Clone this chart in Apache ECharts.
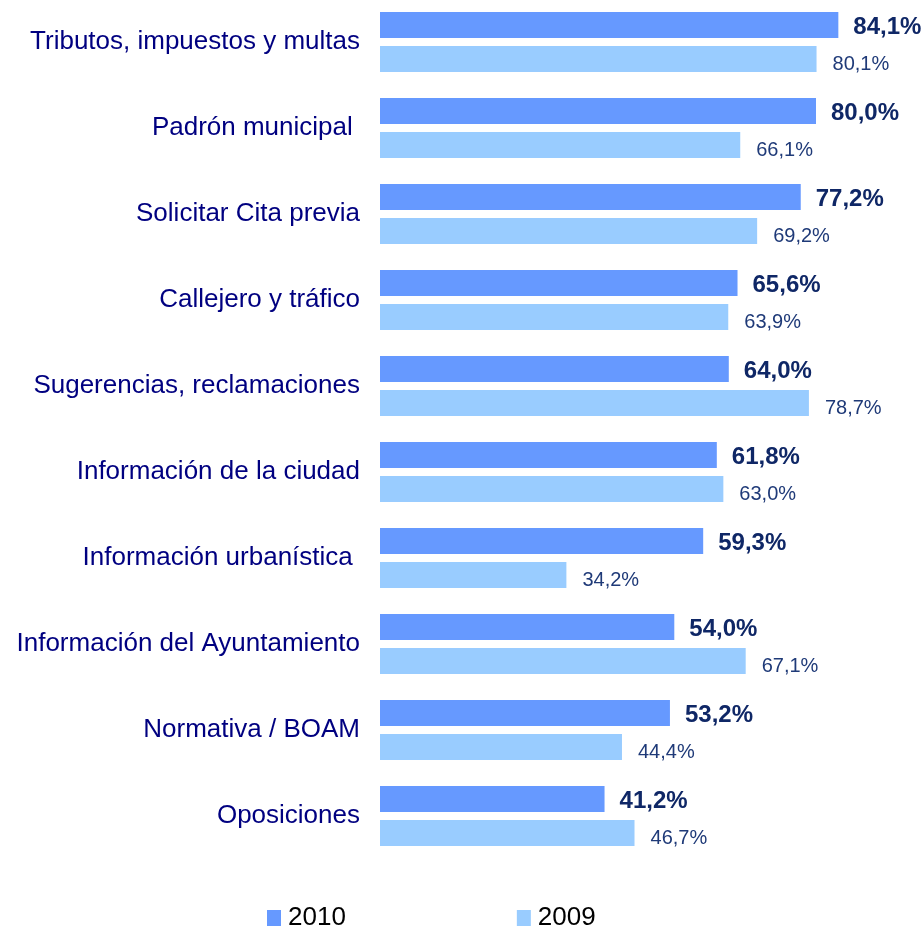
<!DOCTYPE html>
<html>
<head>
<meta charset="utf-8">
<script src="https://cdn.jsdelivr.net/npm/echarts@6/dist/echarts.min.js"></script>
<style>
  html, body { margin: 0; padding: 0; background: #fff; }
  #chart { width: 924px; height: 928px; }
</style>
</head>
<body>
<div id="chart"></div>
<script>
// servicios consultados, 2010 vs 2009
const categories = [
  "Tributos, impuestos y multas",
  "Padrón municipal ",
  "Solicitar Cita previa",
  "Callejero y tráfico",
  "Sugerencias, reclamaciones",
  "Información de la ciudad",
  "Información urbanística ",
  "Información del Ayuntamiento",
  "Normativa / BOAM",
  "Oposiciones"
];
const values2010 = [84.1, 80.0, 77.2, 65.6, 64.0, 61.8, 59.3, 54.0, 53.2, 41.2];
const values2009 = [80.1, 66.1, 69.2, 63.9, 78.7, 63.0, 34.2, 67.1, 44.4, 46.7];

const fmt = (p) => p.value.toFixed(1).replace(".", ",") + "%";

const chart = echarts.init(document.getElementById("chart"));

const option = {
  animation: false,
  textStyle: { fontFamily: "Liberation Sans, Arial, sans-serif" },
  grid: {
    left: 380,
    top: -1,
    width: 545,
    height: 860,
    outerBoundsMode: "none"
  },
  legend: {
    left: 267,
    top: 905,
    padding: 0,
    icon: "rect",
    itemWidth: 14,
    itemHeight: 16,
    itemGap: 171,
    textStyle: { fontSize: 26, color: "#000", padding: [0, 0, 0, 2] },
    data: ["2010", "2009"]
  },
  xAxis: {
    type: "value",
    min: 0,
    max: 100,
    show: false
  },
  yAxis: {
    type: "category",
    inverse: true,
    data: categories,
    axisLine: { show: false },
    axisTick: { show: false },
    axisLabel: {
      fontSize: 26,
      color: "#000080",
      margin: 20,
      padding: [6, 0, 0, 0]
    }
  },
  series: [
    {
      name: "2010",
      type: "bar",
      data: values2010,
      barCategoryGap: "30%",
      barGap: "31%",
      itemStyle: { color: "#6699FF" },
      label: {
        show: true,
        position: "right",
        distance: 15,
        offset: [0, 2],
        formatter: fmt,
        fontSize: 24,
        fontWeight: "bold",
        color: "#0F2766"
      }
    },
    {
      name: "2009",
      type: "bar",
      data: values2009,
      barCategoryGap: "30%",
      barGap: "31%",
      itemStyle: { color: "#99CCFF" },
      label: {
        show: true,
        position: "right",
        distance: 16,
        offset: [0, 5],
        formatter: fmt,
        fontSize: 20,
        color: "#1F3A78"
      }
    }
  ]
};

chart.setOption(option);
</script>
</body>
</html>
